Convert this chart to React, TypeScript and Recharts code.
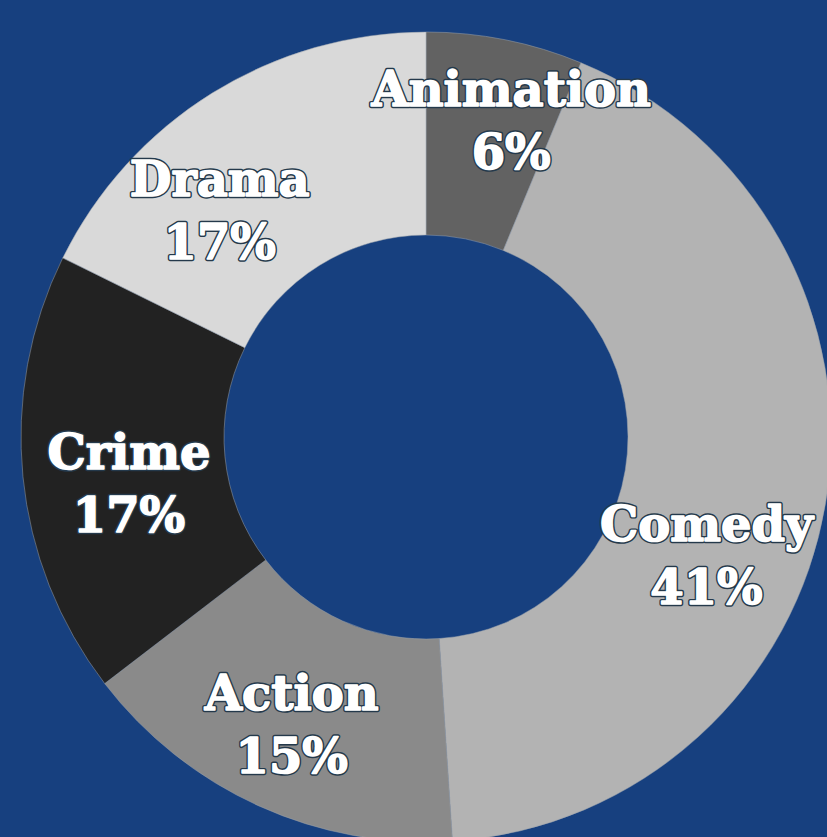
import React from "react";
import { PieChart, Pie, Cell } from "recharts";

const genres = ["Animation", "Comedy", "Action", "Crime", "Drama"];
const counts = [6, 41, 15, 17, 17];
const percentLabels = ["6%", "41%", "15%", "17%", "17%"];
const sliceColors = ["#626262", "#b3b3b3", "#8a8a8a", "#222222", "#d9d9d9"];

const data = genres.map((g, i) => ({ name: g, value: counts[i], pct: percentLabels[i] }));

// layout: small shifts of each inside label from the slice's mid-ring point
const labelNudge = [
  [26, -20],
  [-19, 68],
  [-9, 10],
  [5, 16],
  [-46, 30],
];

const W = 827;
const H = 837;
const BG = "#17407f";
const RAD = Math.PI / 180;

const renderLabel = (props: any) => {
  const { cx, cy, midAngle, innerRadius, outerRadius, index } = props;
  const r = (innerRadius + outerRadius) / 2;
  const x = cx + r * Math.cos(-midAngle * RAD) + labelNudge[index][0];
  const y = cy + r * Math.sin(-midAngle * RAD) + labelNudge[index][1];
  const cap = 36;
  const gap = 63;
  const b1 = y + (cap - gap) / 2;
  const base = {
    textAnchor: "middle" as const,
    fontFamily: "DejaVu Serif",
    fontWeight: 700,
    fontSize: 48,
  };
  const outline = { ...base, fill: "#24394b", stroke: "#24394b", strokeWidth: 4.5, strokeLinejoin: "round" as const };
  const face = { ...base, fill: "#ffffff", stroke: "#ffffff", strokeWidth: 1.6, strokeLinejoin: "round" as const };
  const lines = [data[index].name, data[index].pct];
  return (
    <g key={`lbl-${index}`}>
      {lines.map((t, k) => (
        <text key={`o${k}`} x={x} y={b1 + k * gap} {...outline}>{t}</text>
      ))}
      {lines.map((t, k) => (
        <text key={`f${k}`} x={x} y={b1 + k * gap} {...face}>{t}</text>
      ))}
    </g>
  );
};

export default function App() {
  return (
    <div style={{ position: "absolute", left: 0, top: 0, width: W, height: H, background: BG, overflow: "hidden" }}>
      <PieChart width={W} height={H} margin={{ top: 0, right: 0, bottom: 0, left: 0 }}>
        <Pie
          data={data}
          dataKey="value"
          nameKey="name"
          cx={426}
          cy={437}
          innerRadius={202}
          outerRadius={405}
          startAngle={90}
          endAngle={-270}
          stroke="#9aa3ad"
          strokeWidth={0.5}
          isAnimationActive={false}
          label={renderLabel}
          labelLine={false}
        >
          {data.map((d, i) => (
            <Cell key={d.name} fill={sliceColors[i]} />
          ))}
        </Pie>
      </PieChart>
    </div>
  );
}
